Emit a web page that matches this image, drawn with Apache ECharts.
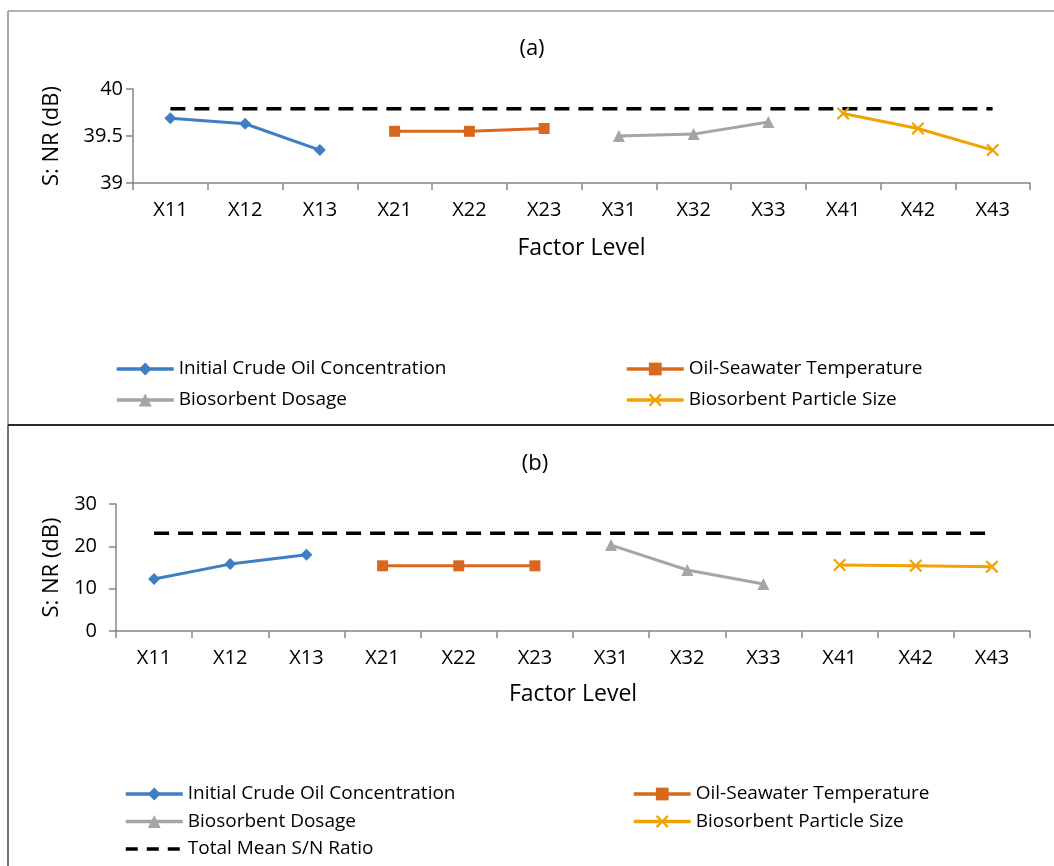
<!DOCTYPE html>
<html>
<head>
<meta charset="utf-8">
<script src="https://cdn.jsdelivr.net/npm/echarts@6/dist/echarts.min.js"></script>
<style>
html,body{margin:0;padding:0;background:#fff;}
#chart{width:1054px;height:866px;}
</style>
</head>
<body>
<div id="chart"></div>
<script>
// ---- data ----
const categories = ['X11','X12','X13','X21','X22','X23','X31','X32','X33','X41','X42','X43'];
const seriesNames = ['Initial Crude Oil Concentration','Oil-Seawater Temperature','Biosorbent Dosage','Biosorbent Particle Size','Total Mean S/N Ratio'];

// panel (a)
const initialCrudeA = [39.69, 39.63, 39.35];
const temperatureA  = [39.55, 39.55, 39.58];
const dosageA       = [39.50, 39.52, 39.65];
const particleA     = [39.74, 39.58, 39.35];
const totalMeanA    = 39.79;
const yTicksA = { min: 39, max: 40, interval: 0.5 };

// panel (b)
const initialCrudeB = [12.3, 15.8, 18.0];
const temperatureB  = [15.4, 15.4, 15.4];
const dosageB       = [20.3, 14.4, 11.1];
const particleB     = [15.6, 15.4, 15.2];
const totalMeanB    = 23.1;
const yTicksB = { min: 0, max: 30, interval: 10 };

// ---- helpers ----
function place(values, groupIndex) {
  return categories.map((c, i) => {
    const g = Math.floor(i / 3);
    return g === groupIndex ? values[i % 3] : null;
  });
}
const FONT = 'Open Sans';
const colors = ['#3E7EC2', '#D9681F', '#A5A5A5', '#F0A202', '#000000'];
const symbols = ['diamond', 'rect', 'triangle',
  'path://M0,1.2L1.2,0L5,3.8L8.8,0L10,1.2L6.2,5L10,8.8L8.8,10L5,6.2L1.2,10L0,8.8L3.8,5Z', 'circle'];
const symbolSizes = [12, 11, 12, 13, 1];

function makeSeries(idx, data, gridIdx) {
  const s = {
    name: seriesNames[idx],
    type: 'line',
    xAxisIndex: gridIdx,
    yAxisIndex: gridIdx,
    data: data,
    connectNulls: false,
    symbol: symbols[idx],
    symbolSize: symbolSizes[idx],
    showSymbol: idx !== 4,
    color: colors[idx],
    itemStyle: { color: colors[idx] },
    lineStyle: { color: colors[idx], width: 3 },
    emphasis: { disabled: true },
    animation: false,
    z: idx === 4 ? 1 : 3
  };
  if (idx === 4) {
    s.lineStyle = { color: '#000', width: 3.5, type: [15, 9] };
  }
  return s;
}

const groupsA = [initialCrudeA, temperatureA, dosageA, particleA];
const groupsB = [initialCrudeB, temperatureB, dosageB, particleB];
const series = [];
groupsA.forEach((v, g) => series.push(makeSeries(g, place(v, g), 0)));
series.push(makeSeries(4, categories.map(() => totalMeanA), 0));
groupsB.forEach((v, g) => series.push(makeSeries(g, place(v, g), 1)));
series.push(makeSeries(4, categories.map(() => totalMeanB), 1));

const axisLineStyle = { color: '#868686', width: 1.5 };
const labelStyle = { color: '#000', fontFamily: FONT, fontSize: 20 };

function xAxis(gridIdx, margin, nameGap) {
  return {
    type: 'category', gridIndex: gridIdx, data: categories, boundaryGap: true,
    axisLine: { show: true, lineStyle: axisLineStyle },
    axisTick: { show: true, length: 7, lineStyle: axisLineStyle, alignWithLabel: false },
    axisLabel: Object.assign({ margin: margin, interval: 0 }, labelStyle),
    splitLine: { show: false },
    name: 'Factor Level', nameLocation: 'middle', nameGap: nameGap,
    nameTextStyle: { color: '#000', fontFamily: FONT, fontSize: 23 }
  };
}
function yAxis(gridIdx, ticks, margin, nameGap) {
  return {
    type: 'value', gridIndex: gridIdx, min: ticks.min, max: ticks.max, interval: ticks.interval,
    axisLine: { show: true, lineStyle: axisLineStyle },
    axisTick: { show: true, length: 7, lineStyle: axisLineStyle },
    axisLabel: Object.assign({ margin: margin }, labelStyle),
    splitLine: { show: false },
    name: 'S: NR (dB)', nameLocation: 'middle', nameGap: nameGap, nameRotate: 90,
    nameTextStyle: { color: '#000', fontFamily: FONT, fontSize: 22 }
  };
}

function legendItem(name) {
  if (name === seriesNames[4]) {
    return { name: name, itemStyle: { opacity: 0 }, lineStyle: { width: 3.5, type: [12, 9] } };
  }
  return { name: name };
}
function legend(left, top, names, gap) {
  return {
    orient: 'vertical', left: left, top: top, padding: 0,
    data: names.map(legendItem),
    itemWidth: 57, itemHeight: 16, itemGap: gap,
    lineStyle: { width: 3.5 },
    textStyle: { color: '#000', fontFamily: FONT, fontSize: 19, lineHeight: 20 },
    selectedMode: false
  };
}

const option = {
  backgroundColor: '#fff',
  animation: false,
  title: [
    { text: '(a)', left: 527, top: 33, textAlign: 'center',
      textStyle: { color: '#000', fontFamily: FONT, fontSize: 22, fontWeight: 'normal' } },
    { text: '(b)', left: 530, top: 448, textAlign: 'center',
      textStyle: { color: '#000', fontFamily: FONT, fontSize: 22, fontWeight: 'normal' } }
  ],
  grid: [
    { left: 133, top: 89, width: 897, height: 94, containLabel: false },
    { left: 116, top: 504, width: 914, height: 127, containLabel: false }
  ],
  xAxis: [xAxis(0, 17, 54), xAxis(1, 17, 52)],
  yAxis: [yAxis(0, yTicksA, 10, 70), yAxis(1, yTicksB, 19, 53)],
  legend: [
    legend(115, 359, [seriesNames[0], seriesNames[2]], 11),
    legend(625, 359, [seriesNames[1], seriesNames[3]], 11),
    legend(124, 784, [seriesNames[0], seriesNames[2], seriesNames[4]], 7.5),
    legend(632, 784, [seriesNames[1], seriesNames[3]], 7.5)
  ],
  graphic: [
    { type: 'line', shape: { x1: 8, y1: 11, x2: 1054, y2: 11 }, style: { stroke: '#9a9a9a', lineWidth: 1.5 }, silent: true },
    { type: 'line', shape: { x1: 8, y1: 11, x2: 8, y2: 425 }, style: { stroke: '#8a8a8a', lineWidth: 1.5 }, silent: true },
    { type: 'line', shape: { x1: 8, y1: 425, x2: 8, y2: 866 }, style: { stroke: '#444', lineWidth: 1.5 }, silent: true },
    { type: 'line', shape: { x1: 8, y1: 425, x2: 1054, y2: 425 }, style: { stroke: '#2a2a2a', lineWidth: 2.2 }, silent: true }
  ],
  series: series
};

const chart = echarts.init(document.getElementById('chart'), null, { renderer: 'canvas' });
chart.setOption(option);
</script>
</body>
</html>
